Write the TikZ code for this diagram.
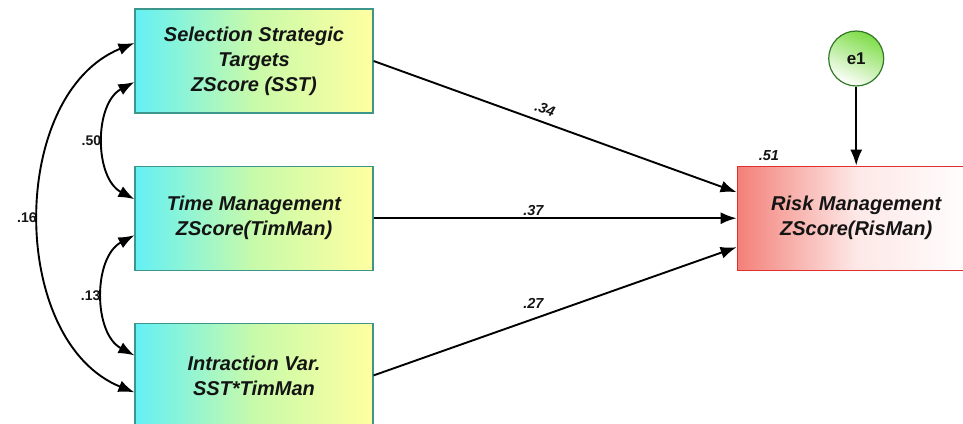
\documentclass[tikz,border=0pt]{standalone}
\usepackage{fontspec}
\setmainfont{Liberation Sans}
\usepackage{tikz}
\usetikzlibrary{positioning, arrows.meta}
\definecolor{boxcyan}{RGB}{100,240,245}
\definecolor{boxyellow}{RGB}{255,255,160}
\definecolor{boxlime}{RGB}{200,250,170}
\definecolor{boxedge}{RGB}{60,150,140}
\definecolor{riskred}{RGB}{243,128,120}
\definecolor{riskedge}{RGB}{228,45,45}
\definecolor{errgreen}{RGB}{125,220,70}
\definecolor{erredge}{RGB}{50,120,40}
\definecolor{textblack}{RGB}{20,20,20}
\tikzset{
	node distance=52pt and 363pt,
	every text node part/.style= {
		align=center
	},
	varbox/.style= {
		rectangle,
		draw=boxedge,
		line width=1.2pt,
		minimum width=238pt,
		minimum height=104pt,
		left color=boxcyan,
		right color=boxyellow,
		middle color=boxlime,
		text=textblack,
		font=\fontsize{20}{25}\selectfont\bfseries\itshape
	},
	outbox/.style= {
		varbox,
		draw=riskedge,
		left color=riskred,
		right color=white,
		middle color=riskred!18!white
	},
	errnode/.style= {
		circle,
		draw=erredge,
		line width=1.2pt,
		minimum size=55pt,
		inner sep=0pt,
		top color=errgreen,
		bottom color=white,
		shading angle=-25,
		text=textblack,
		font=\fontsize{17}{20}\selectfont\bfseries
	},
	coef/.style= {
		text=textblack,
		inner sep=2pt,
		font=\fontsize{14.5}{16}\selectfont\bfseries\itshape
	},
	corr/.style= {
		text=textblack,
		inner sep=2pt,
		font=\fontsize{14}{16}\selectfont\bfseries
	},
	path/.style= {
		line width=1.9pt,
		-{Latex[length=16pt, width=12pt]}
	},
	cov/.style= {
		line width=1.9pt,
		{Latex[length=16pt, width=12pt]}-{Latex[length=16pt, width=12pt]}
	}
}

\begin{document}
\begin{tikzpicture}[x=1pt, y=-1pt]

	\useasboundingbox (0,0) rectangle (963,423);
	\clip (0,0) rectangle (963,423);

	\node (sst)[varbox] at (254,61) {Selection Strategic\\Targets\\ZScore (SST)};
	\node (tim)[varbox, below= of sst]{Time Management\\ZScore(TimMan)};
	\node (inter)[varbox, below= of tim]{Intraction Var.\\SST*TimMan};
	\node (ris)[outbox, right= of tim]{Risk Management\\ZScore(RisMan)};
	\node (e1)[errnode, above=79pt of ris]{e1};
	\node (r2)[coef, above right=3pt and 20pt of ris.north west]{.51};

	% regression paths
	\draw[path] (sst.east) -- ([yshift=26pt]ris.west) node[coef, pos=0.46, above=5pt, sloped]{.34};
	\draw[path] (tim.east) -- (ris.west) node[coef, pos=0.44, above]{.37};
	\draw[path] (inter.east) -- ([yshift=-29pt]ris.west) node[coef, pos=0.44, above=8pt]{.27};
	\draw[path] (e1) -- (ris);

	% correlations
	\draw[cov] ([yshift=-21pt]sst.west) to[bend right=62] node[corr, left]{.50} ([yshift=19pt]tim.west);
	\draw[cov] ([yshift=-17pt]tim.west) to[bend right=62] node[corr, left]{.13} ([yshift=20pt]inter.west);
	\draw[cov] ([yshift=18pt]sst.west) to[bend right=68] node[corr, left]{.16} ([yshift=-17pt]inter.west);

\end{tikzpicture}
\end{document}
